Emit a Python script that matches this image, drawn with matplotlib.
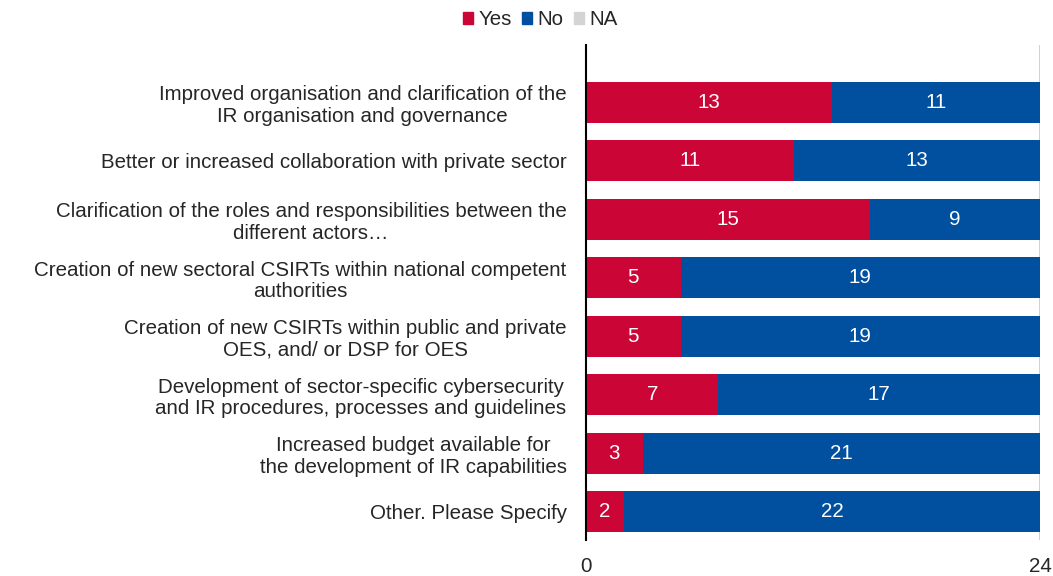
import matplotlib
matplotlib.use("Agg")
import matplotlib.pyplot as plt
from matplotlib.patches import Patch

plt.rcParams['font.family'] = ['Liberation Sans', 'DejaVu Sans']

categories = [
    "Improved organisation and clarification of the\nIR organisation and governance",
    "Better or increased collaboration with private sector",
    "Clarification of the roles and responsibilities between the\ndifferent actors\u2026",
    "Creation of new sectoral CSIRTs within national competent\nauthorities",
    "Creation of new CSIRTs within public and private\nOES, and/ or DSP for OES",
    "Development of sector-specific cybersecurity\nand IR procedures, processes and guidelines",
    "Increased budget available for\nthe development of IR capabilities",
    "Other. Please Specify",
]
yes = [13, 11, 15, 5, 5, 7, 3, 2]
no = [11, 13, 9, 19, 19, 17, 21, 22]
na = [0, 0, 0, 0, 0, 0, 0, 0]
x_ticks = [0, 24]

RED = "#CC0537"
BLUE = "#00509F"
GREY = "#D4D4D4"
TXT = "#262626"
FS = 14.8

fig = plt.figure(figsize=(10.53, 5.76), dpi=100)
ax = fig.add_axes([0.5565, 0.0625, 0.4311, 0.8594])

pos = list(range(len(categories)))
h = 0.7
ax.barh(pos, yes, height=h, color=RED, edgecolor="none")
ax.barh(pos, no, left=yes, height=h, color=BLUE, edgecolor="none")
left_na = [a + b for a, b in zip(yes, no)]
ax.barh(pos, na, left=left_na, height=h, color=GREY, edgecolor="none")

for i in pos:
    if yes[i]:
        ax.text(yes[i] / 2, i, str(yes[i]), ha="center", va="center",
                color="white", fontsize=FS)
    if no[i]:
        ax.text(yes[i] + no[i] / 2, i, str(no[i]), ha="center", va="center",
                color="white", fontsize=FS)

ax.set_xlim(0, 24)
ax.set_ylim(7.48, -0.98)
ax.set_yticks(pos)
ax.set_yticklabels(categories, fontsize=FS, color=TXT, multialignment="center",
                   linespacing=1.15)
ax.set_xticks(x_ticks)
ax.set_xticklabels([str(t) for t in x_ticks], fontsize=FS, color=TXT)
ax.tick_params(axis="both", length=0)
ax.tick_params(axis="y", pad=14)
ax.tick_params(axis="x", pad=12)

for s in ["top", "bottom", "right"]:
    ax.spines[s].set_visible(False)
ax.spines["left"].set_color("black")
ax.spines["left"].set_linewidth(1.5)
ax.axvline(24, color="#C8C8C8", linewidth=1.2, zorder=0)

handles = [Patch(color=RED), Patch(color=BLUE), Patch(color=GREY)]
fig.legend(handles, ["Yes", "No", "NA"], loc="center", bbox_to_anchor=(0.513, 0.966),
           ncol=3, frameon=False, fontsize=FS, handlelength=0.5, handleheight=0.5,
           handletextpad=0.25, columnspacing=0.5, labelcolor=TXT)

fig.savefig("out.png", dpi=100)
